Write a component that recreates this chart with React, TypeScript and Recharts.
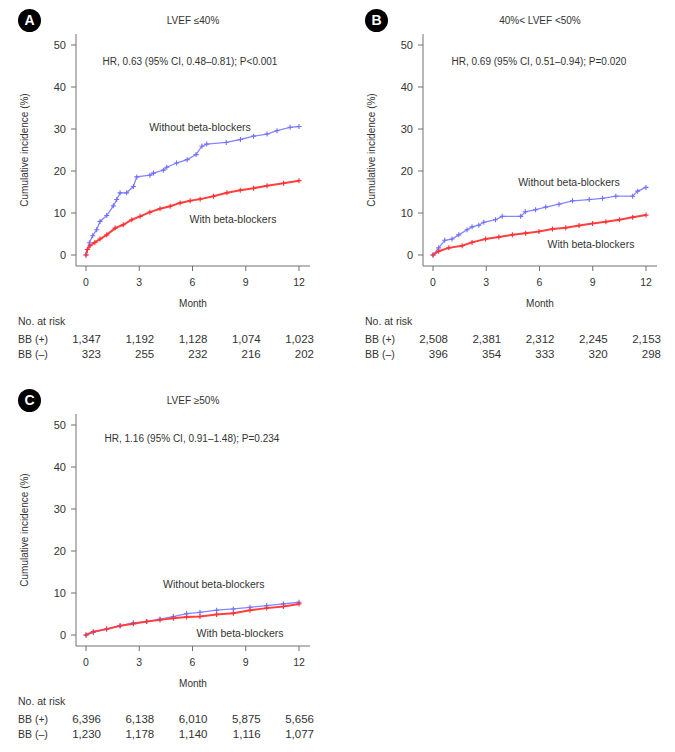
import React from 'react';
import { LineChart, Line, XAxis, YAxis, ReferenceDot } from 'recharts';

const monthTicks = [0, 3, 6, 9, 12];
const incidenceTicks = [0, 10, 20, 30, 40, 50];

// Panel A: LVEF <=40%
const timeA_without = [0, 0.08, 0.19, 0.38, 0.6, 0.79, 1.17, 1.54, 1.73, 1.92, 2.29, 2.67, 2.86, 3.6, 3.8, 4.36, 4.55, 5.1, 5.7, 6.2, 6.53, 6.8, 7.9, 8.7, 9.44, 10.2, 10.76, 11.5, 12];
const incA_without = [0, 1.3, 2.9, 4.6, 6.0, 8.0, 9.4, 11.7, 13.2, 14.8, 14.8, 16.3, 18.6, 19.0, 19.5, 20.2, 20.9, 21.9, 22.7, 23.9, 25.9, 26.4, 26.8, 27.5, 28.3, 28.8, 29.6, 30.4, 30.6];
const timeA_with = [0, 0.08, 0.23, 0.5, 0.79, 1.17, 1.64, 2.1, 2.58, 3.05, 3.6, 4.17, 4.74, 5.3, 5.87, 6.43, 7.18, 7.94, 8.69, 9.44, 10.2, 11.13, 12];
const incA_with = [0, 1.3, 2.2, 3.0, 3.8, 4.8, 6.4, 7.2, 8.4, 9.2, 10.2, 11.0, 11.6, 12.4, 12.9, 13.3, 14.0, 14.8, 15.4, 15.9, 16.5, 17.1, 17.7];
const riskA_plus = ['1,347', '1,192', '1,128', '1,074', '1,023'];
const riskA_minus = ['323', '255', '232', '216', '202'];

// Panel B: 40%< LVEF <50%
const timeB_without = [0, 0.32, 0.66, 1.07, 1.45, 1.92, 2.2, 2.58, 2.86, 3.52, 3.9, 4.94, 5.2, 5.78, 6.35, 7.1, 7.86, 8.8, 9.55, 10.3, 11.25, 11.53, 12];
const incB_without = [0, 1.7, 3.5, 3.8, 4.8, 6.0, 6.7, 7.1, 7.8, 8.4, 9.2, 9.2, 10.3, 10.8, 11.4, 12.1, 12.9, 13.2, 13.5, 14.0, 14.0, 15.2, 16.1];
const timeB_with = [0, 0.32, 0.89, 1.64, 2.2, 2.96, 3.71, 4.47, 5.22, 5.97, 6.73, 7.48, 8.23, 8.99, 9.74, 10.5, 11.25, 12];
const incB_with = [0, 0.9, 1.7, 2.2, 3.0, 3.8, 4.3, 4.8, 5.2, 5.6, 6.2, 6.5, 7.0, 7.5, 7.9, 8.4, 9.0, 9.5];
const riskB_plus = ['2,508', '2,381', '2,312', '2,245', '2,153'];
const riskB_minus = ['396', '354', '333', '320', '298'];

// Panel C: LVEF >=50%
const timeC_without = [0, 0.41, 1.16, 1.92, 2.67, 3.42, 4.17, 4.92, 5.67, 6.42, 7.36, 8.3, 9.24, 10.18, 11.12, 12];
const incC_without = [0, 0.6, 1.4, 2.2, 2.9, 3.2, 3.8, 4.4, 5.1, 5.4, 5.9, 6.2, 6.6, 7.0, 7.4, 7.8];
const timeC_with = [0, 0.41, 1.16, 1.92, 2.67, 3.42, 4.17, 4.92, 5.67, 6.42, 7.36, 8.3, 9.24, 10.18, 11.12, 12];
const incC_with = [0, 0.8, 1.4, 2.2, 2.7, 3.2, 3.6, 4.0, 4.3, 4.4, 4.9, 5.2, 5.9, 6.4, 6.8, 7.4];
const riskC_plus = ['6,396', '6,138', '6,010', '5,875', '5,656'];
const riskC_minus = ['1,230', '1,178', '1,140', '1,116', '1,077'];

const zip = (t: number[], v: number[]) => t.map((x, i) => ({ t: x, v: v[i] }));

const FONT = '"Liberation Sans", Arial, sans-serif';
const AXIS = '#707070';
const TEXT = '#333';
const BLUE = '#8585ff';
const RED = '#ff4040';

// plot geometry inside a panel (px)
const X0 = 86;
const PX_PER_MONTH = 17.75;

const plusDot = (color: string) => (props: any) => {
  const { cx, cy, index } = props;
  if (cx == null || cy == null) return <g key={`d-${index}`} />;
  return (
    <path
      key={`d-${index}`}
      d={`M${cx - 2.5},${cy}h5M${cx},${cy - 2.5}v5`}
      stroke={color}
      strokeWidth={1.1}
      fill="none"
    />
  );
};

interface PanelProps {
  letter: string;
  title: string;
  hr: string;
  hrAt: [number, number];
  withoutAt: [number, number];
  withAt: [number, number];
  without: { t: number; v: number }[];
  withBB: { t: number; v: number }[];
  riskPlus: string[];
  riskMinus: string[];
  left: number;
  top: number;
}

const Panel: React.FC<PanelProps> = (p) => {
  const labelStyle = { fontSize: 10, fill: TEXT, fontFamily: FONT };
  return (
    <div style={{ position: 'absolute', left: p.left, top: p.top, width: 330, height: 370 }}>
      <div
        style={{
          position: 'absolute', left: 18, top: 9, width: 23, height: 23, borderRadius: '50%',
          background: '#000', color: '#fff', fontWeight: 'bold', fontSize: 14, lineHeight: '23px',
          textAlign: 'center', fontFamily: FONT,
        }}
      >
        {p.letter}
      </div>
      <div
        style={{
          position: 'absolute', left: 193, top: 20, transform: 'translate(-50%, -50%)',
          fontSize: 10, color: TEXT, whiteSpace: 'nowrap', fontFamily: FONT,
        }}
      >
        {p.title}
      </div>
      <LineChart width={330} height={311} margin={{ top: 34, right: 20, left: 0, bottom: 0 }}>
        <XAxis
          dataKey="t"
          type="number"
          domain={[0, 12]}
          ticks={monthTicks}
          padding={{ left: 10, right: 11 }}
          height={45}
          tickSize={5}
          tickMargin={8}
          tick={{ fontSize: 10.5, fill: TEXT, fontFamily: FONT }}
          stroke={AXIS}
          label={{ value: 'Month', position: 'insideBottom', offset: 4, ...labelStyle }}
        />
        <XAxis xAxisId="top" orientation="top" type="number" domain={[0, 12]} height={0} tick={false} tickLine={false} stroke={AXIS} />
        <YAxis
          type="number"
          domain={[0, 50]}
          ticks={incidenceTicks}
          padding={{ top: 11, bottom: 11 }}
          width={76}
          tickSize={5}
          tickMargin={5}
          tick={{ fontSize: 11, fill: TEXT, fontFamily: FONT }}
          stroke={AXIS}
          label={{ value: 'Cumulative incidence (%)', angle: -90, position: 'center', dx: -14, ...labelStyle }}
        />
        <YAxis yAxisId="right" orientation="right" type="number" domain={[0, 50]} width={0} tick={false} tickLine={false} stroke={AXIS} />
        <Line
          data={p.without}
          dataKey="v"
          type="linear"
          stroke={BLUE}
          strokeWidth={1.3}
          dot={plusDot('#7070ff')}
          activeDot={false}
          isAnimationActive={false}
        />
        <Line
          data={p.withBB}
          dataKey="v"
          type="linear"
          stroke={RED}
          strokeWidth={2}
          dot={plusDot('#ff3030')}
          activeDot={false}
          isAnimationActive={false}
        />
        <ReferenceDot x={p.hrAt[0]} y={p.hrAt[1]} r={0} stroke="none" fill="none"
          label={{ value: p.hr, position: 'center', ...labelStyle }} />
        <ReferenceDot x={p.withoutAt[0]} y={p.withoutAt[1]} r={0} stroke="none" fill="none"
          label={{ value: 'Without beta-blockers', position: 'center', ...labelStyle, fontSize: 10.5 }} />
        <ReferenceDot x={p.withAt[0]} y={p.withAt[1]} r={0} stroke="none" fill="none"
          label={{ value: 'With beta-blockers', position: 'center', ...labelStyle, fontSize: 10.5 }} />
      </LineChart>
      <div style={{ position: 'absolute', left: 18, top: 321, transform: 'translateY(-50%)', fontSize: 10.5, color: TEXT, fontFamily: FONT, whiteSpace: 'nowrap' }}>
        No. at risk
      </div>
      {[
        { name: 'BB (+)', values: p.riskPlus, y: 339 },
        { name: 'BB (\u2013)', values: p.riskMinus, y: 354 },
      ].map((row) => (
        <React.Fragment key={row.name}>
          <div style={{ position: 'absolute', left: 18, top: row.y, transform: 'translateY(-50%)', fontSize: 10.5, color: TEXT, fontFamily: FONT, whiteSpace: 'nowrap' }}>
            {row.name}
          </div>
          {row.values.map((v, i) => (
            <div
              key={i}
              style={{
                position: 'absolute', left: X0 + monthTicks[i] * PX_PER_MONTH + 15, top: row.y,
                transform: 'translate(-100%, -50%)', fontSize: 11.5, color: TEXT, fontFamily: FONT, whiteSpace: 'nowrap',
              }}
            >
              {v}
            </div>
          ))}
        </React.Fragment>
      ))}
    </div>
  );
};

export default function App() {
  return (
    <div style={{ position: 'absolute', left: 0, top: 0, width: 675, height: 752, background: '#fff', fontFamily: FONT }}>
      <Panel
        letter="A"
        title={'LVEF \u226440%'}
        hr="HR, 0.63 (95% CI, 0.48–0.81); P<0.001"
        hrAt={[5.86, 46]}
        withoutAt={[6.42, 30.5]}
        withAt={[8.28, 8.6]}
        without={zip(timeA_without, incA_without)}
        withBB={zip(timeA_with, incA_with)}
        riskPlus={riskA_plus}
        riskMinus={riskA_minus}
        left={0}
        top={0}
      />
      <Panel
        letter="B"
        title={'40%< LVEF <50%'}
        hr="HR, 0.69 (95% CI, 0.51–0.94); P=0.020"
        hrAt={[5.97, 46]}
        withoutAt={[7.66, 17.4]}
        withAt={[8.9, 2.6]}
        without={zip(timeB_without, incB_without)}
        withBB={zip(timeB_with, incB_with)}
        riskPlus={riskB_plus}
        riskMinus={riskB_minus}
        left={347}
        top={0}
      />
      <Panel
        letter="C"
        title={'LVEF \u226550%'}
        hr="HR, 1.16 (95% CI, 0.91–1.48); P=0.234"
        hrAt={[5.97, 46.7]}
        withoutAt={[7.2, 12.1]}
        withAt={[8.68, 0.5]}
        without={zip(timeC_without, incC_without)}
        withBB={zip(timeC_with, incC_with)}
        riskPlus={riskC_plus}
        riskMinus={riskC_minus}
        left={0}
        top={380}
      />
    </div>
  );
}
